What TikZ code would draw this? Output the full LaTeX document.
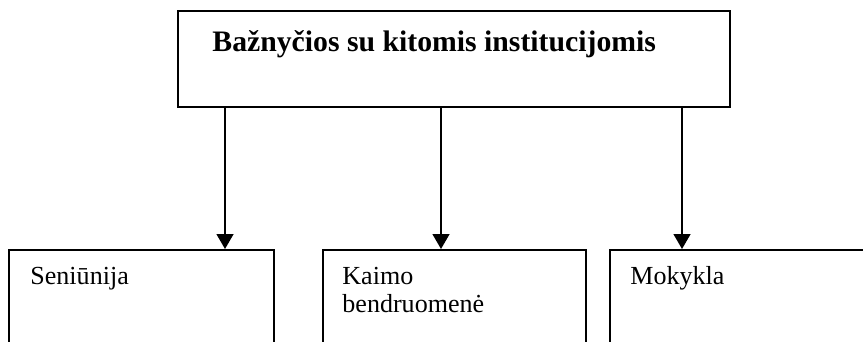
\documentclass[tikz,border=0pt]{standalone}
\usepackage{fontspec}
\setmainfont{Liberation Serif}
\usetikzlibrary{arrows.meta}
\renewcommand{\arraystretch}{1}
\begin{document}
\begin{tikzpicture}[x=0.4608pt,y=-0.4608pt,
  boxline/.style={draw=black,line width=0.75pt,rectangle,inner sep=0pt,anchor=north west},
  lbl/.style={inner sep=0pt,anchor=base west,font=\fontsize{12}{12.9}\selectfont},
  arr/.style={line width=0.75pt,-{Triangle[length=6.9pt,width=7.8pt]}}]
\useasboundingbox (0,0) rectangle (863,342);
\clip (0,0) rectangle (863,342);
\fill[white] (0,0) rectangle (863,342);
\node[boxline,minimum width=254.4pt,minimum height=44.2pt] (top) at (177,10) {};
\node[inner sep=0pt,anchor=base west,font=\fontsize{13.7}{16}\selectfont\bfseries] (toptxt) at (212,52) {Bažnyčios su kitomis institucijomis};
\node[boxline,minimum width=122.1pt,minimum height=55pt] (sen) at (8,249) {};
\node[boxline,minimum width=121.2pt,minimum height=55pt] (kai) at (322,249) {};
\node[boxline,minimum width=121.2pt,minimum height=55pt] (mok) at (609,249) {};
\node[lbl] (sentxt) at (30,285) {Seniūnija};
\node[lbl] (kaitxt) at (342,285) {\begin{tabular}[t]{@{}l@{}}Kaimo\\bendruomenė\end{tabular}};
\node[lbl] (moktxt) at (630,285) {Mokykla};
\coordinate (a1) at (225,0);
\coordinate (a2) at (441,0);
\coordinate (a3) at (682,0);
\draw[arr] (top.south -| a1) -- (sen.north -| a1);
\draw[arr] (top.south -| a2) -- (kai.north -| a2);
\draw[arr] (top.south -| a3) -- (mok.north -| a3);
\end{tikzpicture}
\end{document}
